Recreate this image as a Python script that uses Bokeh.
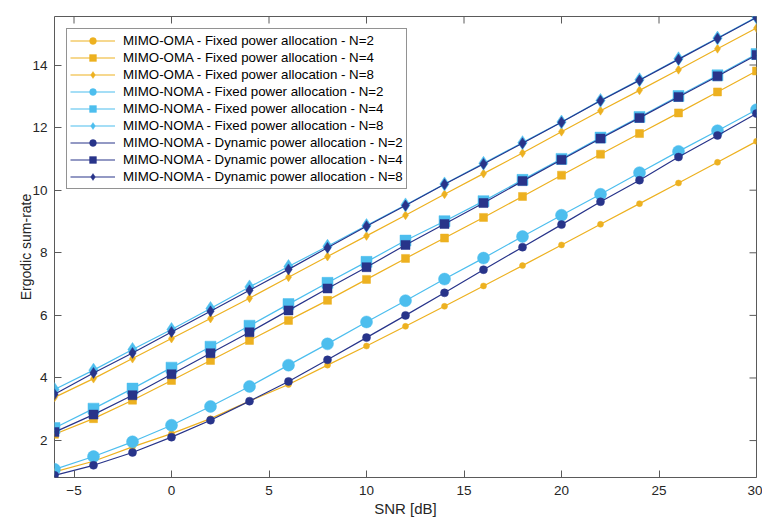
import math
from bokeh.plotting import figure
from bokeh.models import Range1d, Legend, LegendItem, FixedTicker
from bokeh.embed import file_html
from bokeh.resources import INLINE

snr = [-6, -4, -2, 0, 2, 4, 6, 8, 10, 12, 14, 16, 18, 20, 22, 24, 26, 28, 30]

oma_n2 = [1.00, 1.34, 1.80, 2.22, 2.70, 3.26, 3.79, 4.41, 5.02, 5.65, 6.29, 6.94, 7.59, 8.25, 8.91, 9.57, 10.23, 10.89, 11.56]
oma_n4 = [2.20, 2.70, 3.29, 3.92, 4.56, 5.20, 5.84, 6.48, 7.15, 7.82, 8.47, 9.13, 9.80, 10.48, 11.15, 11.81, 12.47, 13.14, 13.81]
oma_n8 = [3.38, 3.98, 4.62, 5.26, 5.90, 6.55, 7.22, 7.88, 8.54, 9.20, 9.87, 10.53, 11.19, 11.87, 12.54, 13.19, 13.85, 14.52, 15.18]

noma_fix_n2 = [1.08, 1.49, 1.96, 2.49, 3.09, 3.73, 4.41, 5.09, 5.79, 6.47, 7.16, 7.83, 8.52, 9.20, 9.87, 10.56, 11.24, 11.90, 12.57]
noma_fix_n4 = [2.40, 3.02, 3.66, 4.33, 5.00, 5.67, 6.36, 7.04, 7.71, 8.39, 9.01, 9.65, 10.33, 11.00, 11.68, 12.34, 13.01, 13.67, 14.35]
noma_fix_n8 = [3.63, 4.25, 4.91, 5.55, 6.22, 6.91, 7.56, 8.21, 8.87, 9.53, 10.20, 10.86, 11.52, 12.18, 12.87, 13.53, 14.20, 14.86, 15.53]

noma_dyn_n2 = [0.89, 1.21, 1.62, 2.11, 2.65, 3.26, 3.89, 4.58, 5.29, 6.00, 6.72, 7.46, 8.18, 8.90, 9.63, 10.32, 11.06, 11.75, 12.45]
noma_dyn_n4 = [2.27, 2.83, 3.45, 4.12, 4.79, 5.46, 6.16, 6.86, 7.54, 8.25, 8.92, 9.59, 10.29, 10.97, 11.65, 12.31, 12.98, 13.64, 14.32]
noma_dyn_n8 = [3.48, 4.16, 4.80, 5.47, 6.13, 6.80, 7.47, 8.16, 8.85, 9.51, 10.19, 10.84, 11.50, 12.17, 12.86, 13.51, 14.18, 14.85, 15.52]

labels = [
    "MIMO-OMA - Fixed power allocation - N=2",
    "MIMO-OMA - Fixed power allocation - N=4",
    "MIMO-OMA - Fixed power allocation - N=8",
    "MIMO-NOMA - Fixed power allocation - N=2",
    "MIMO-NOMA - Fixed power allocation - N=4",
    "MIMO-NOMA - Fixed power allocation - N=8",
    "MIMO-NOMA - Dynamic power allocation - N=2",
    "MIMO-NOMA - Dynamic power allocation - N=4",
    "MIMO-NOMA - Dynamic power allocation - N=8",
]
x_ticks = [-5, 0, 5, 10, 15, 20, 25, 30]
y_ticks = [2, 4, 6, 8, 10, 12, 14]

YEL = "#EDB120"
LBL = "#4DBEEE"
DBL = "#28348A"

series = [
    (oma_n2, YEL, "circle", 6),
    (oma_n4, YEL, "square", 8),
    (oma_n8, YEL, "diamond", 9),
    (noma_fix_n2, LBL, "circle", 12),
    (noma_fix_n4, LBL, "square", 11),
    (noma_fix_n8, LBL, "diamond", 14),
    (noma_dyn_n2, DBL, "circle", 8),
    (noma_dyn_n4, DBL, "square", 9),
    (noma_dyn_n8, DBL, "diamond", 11),
]

FONT = "Liberation Sans"
AX = "#5a5a5a"
TXT = "#262626"
TICK = 7

xr = Range1d(-6, 30)
yr = Range1d(0.82, 15.55)

p = figure(width=762, height=521, output_backend="svg", toolbar_location=None,
           x_range=xr, y_range=yr,
           min_border_left=54, min_border_right=6, min_border_top=16, min_border_bottom=44)
p.xgrid.visible = False
p.ygrid.visible = False
p.outline_line_color = AX
p.outline_line_width = 1
p.background_fill_color = "white"
p.border_fill_color = "white"

items = []
for (vals, col, mk, sz), lab in zip(series, labels):
    lr = p.line(snr, vals, line_color=col, line_width=1.2)
    sr = p.scatter(snr, vals, marker=mk, size=sz, fill_color=col, line_color=col, line_width=0.5)
    items.append(LegendItem(label=lab, renderers=[lr, sr]))

# mirrored inward ticks on the top and right edges (clipped to the frame)
p.scatter(x_ticks, [yr.end] * len(x_ticks), marker="dash", angle=math.pi / 2,
          size=2 * TICK, line_color=AX, line_width=1)
p.scatter([xr.end] * len(y_ticks), y_ticks, marker="dash",
          size=2 * TICK, line_color=AX, line_width=1)

for ax, ticks in ((p.below[0], x_ticks), (p.left[0], y_ticks)):
    ax.ticker = FixedTicker(ticks=ticks)
    ax.axis_line_color = None
    ax.major_tick_line_color = AX
    ax.major_tick_in = TICK
    ax.major_tick_out = 0
    ax.minor_tick_line_color = None
    ax.major_label_text_font = FONT
    ax.major_label_text_color = TXT
    ax.major_label_text_font_size = "13.5px"
    ax.axis_label_text_font = FONT
    ax.axis_label_text_color = TXT
    ax.axis_label_text_font_style = "normal"

p.below[0].axis_label = "SNR [dB]"
p.left[0].axis_label = "Ergodic sum-rate"
p.below[0].axis_label_text_font_size = "15px"
p.left[0].axis_label_text_font_size = "14px"
p.below[0].major_label_standoff = 8
p.below[0].axis_label_standoff = 2
p.left[0].major_label_standoff = 7
p.left[0].axis_label_standoff = -5

legend = Legend(items=items, location="top_left")
legend.margin = 12
legend.padding = 3
legend.spacing = 0
legend.glyph_width = 45
legend.glyph_height = 17
legend.label_height = 17
legend.label_standoff = 8
legend.label_text_font = FONT
legend.label_text_font_size = "13.3px"
legend.label_text_color = "black"
legend.border_line_color = TXT
legend.border_line_width = 1
legend.background_fill_color = "white"
legend.background_fill_alpha = 1
p.add_layout(legend, "center")

open("out.html", "w").write(file_html(p, INLINE))
